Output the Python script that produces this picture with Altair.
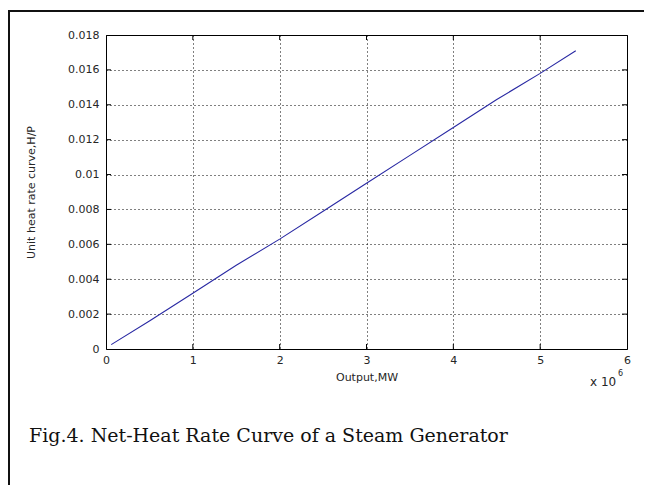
import altair as alt
import pandas as pd

# Data (output in MW, unit heat rate H/P)
output_mw = [0.06e6, 0.5e6, 1.0e6, 1.5e6, 2.0e6, 2.5e6, 3.0e6, 3.5e6, 4.0e6, 4.5e6, 5.0e6, 5.41e6]
heat_rate = [0.00025, 0.0016, 0.0032, 0.0048, 0.0063, 0.0079, 0.0095, 0.0111, 0.0127, 0.0143, 0.0158, 0.0171]

x_ticks = [0, 1e6, 2e6, 3e6, 4e6, 5e6, 6e6]
y_ticks = [0, 0.002, 0.004, 0.006, 0.008, 0.010, 0.012, 0.014, 0.016, 0.018]
x_inner_ticks = x_ticks[1:-1]
y_inner_ticks = y_ticks[1:-1]

x_title = "Output,MW"
y_title = "Unit heat rate curve,H/P"
caption = "Fig.4. Net-Heat Rate Curve of a Steam Generator"
exp_base = "x 10"
exp_power = "6"

W, H = 521, 314

df = pd.DataFrame({"P": output_mw, "HP": heat_rate})
xt = pd.DataFrame({"v": x_inner_ticks})
yt = pd.DataFrame({"v": y_inner_ticks})

xs = alt.Scale(domain=[0, 6e6], nice=False, zero=False)
ys = alt.Scale(domain=[0, 0.018], nice=False, zero=False)

font = "DejaVu Sans"
lab_size = 11
title_size = 11
txt_color = "#262626"

x_axis = alt.Axis(values=x_ticks, labelExpr="format(datum.value/1e6, '~f')",
                  grid=True, gridDash=[1, 3], gridColor="#000", gridOpacity=1,
                  ticks=False, domain=False, labelPadding=5,
                  labelOverlap=False, labelBound=False, labelFlush=False,
                  labelFont=font, labelFontSize=lab_size, labelColor=txt_color,
                  title=x_title, titleFont=font, titleFontSize=title_size,
                  titleFontWeight="normal",
                  titleColor=txt_color, titleX=W / 2, titleY=28, titleBaseline="middle",
                  titleAlign="center")
y_axis = alt.Axis(values=y_ticks, format="~f",
                  grid=True, gridDash=[1, 3], gridColor="#000", gridOpacity=1,
                  ticks=False, domain=False, labelPadding=7,
                  labelOverlap=False, labelBound=False, labelFlush=False,
                  labelFont=font, labelFontSize=lab_size, labelColor=txt_color,
                  title=y_title, titleFont=font, titleFontSize=title_size,
                  titleFontWeight="normal",
                  titleColor=txt_color, titleX=-75, titleY=H / 2, titleBaseline="middle",
                  titleAlign="center", titleAngle=270)

line = alt.Chart(df).mark_line(color="#2929a3", strokeWidth=1.1).encode(
    x=alt.X("P:Q", scale=xs, axis=x_axis),
    y=alt.Y("HP:Q", scale=ys, axis=y_axis),
)

tick_color = "#000"
ytick_l = alt.Chart(yt).mark_rule(color=tick_color).encode(
    y=alt.Y("v:Q", scale=ys, axis=y_axis), x=alt.value(0), x2=alt.value(5))
ytick_r = alt.Chart(yt).mark_rule(color=tick_color).encode(
    y=alt.Y("v:Q", scale=ys, axis=y_axis), x=alt.value(W - 5), x2=alt.value(W))
xtick_b = alt.Chart(xt).mark_rule(color=tick_color).encode(
    x=alt.X("v:Q", scale=xs, axis=x_axis), y=alt.value(H - 5), y2=alt.value(H))
xtick_t = alt.Chart(xt).mark_rule(color=tick_color).encode(
    x=alt.X("v:Q", scale=xs, axis=x_axis), y=alt.value(0), y2=alt.value(5))

txt = pd.DataFrame({"t": [caption]})
cap = alt.Chart(txt).mark_text(font="DejaVu Serif", fontSize=19, align="left",
                               baseline="alphabetic", color="#111").encode(
    text="t:N", x=alt.value(-77), y=alt.value(407))

e1 = alt.Chart(pd.DataFrame({"t": [exp_base]})).mark_text(
    font=font, fontSize=12, align="left", baseline="middle", color=txt_color).encode(
    text="t:N", x=alt.value(484), y=alt.value(347))
e2 = alt.Chart(pd.DataFrame({"t": [exp_power]})).mark_text(
    font=font, fontSize=8, align="left", baseline="middle", color=txt_color).encode(
    text="t:N", x=alt.value(512), y=alt.value(339))

frame_l = alt.Chart(txt).mark_rule(color="#111", strokeWidth=2).encode(
    x=alt.value(-97), y=alt.value(-24), y2=alt.value(460))
frame_t = alt.Chart(txt).mark_rule(color="#111", strokeWidth=2).encode(
    x=alt.value(-98), x2=alt.value(540), y=alt.value(-24))

chart = alt.layer(line, ytick_l, ytick_r, xtick_b, xtick_t, cap, e1, e2, frame_l, frame_t).properties(
    width=W, height=H,
    padding={"left": 98, "top": 27, "right": 17, "bottom": 136},
    autosize=alt.AutoSizeParams(type="none"),
    background="white",
).configure_view(stroke="#000", strokeWidth=1)

chart.save("out.html", embed_options={"renderer": "svg", "actions": False})
